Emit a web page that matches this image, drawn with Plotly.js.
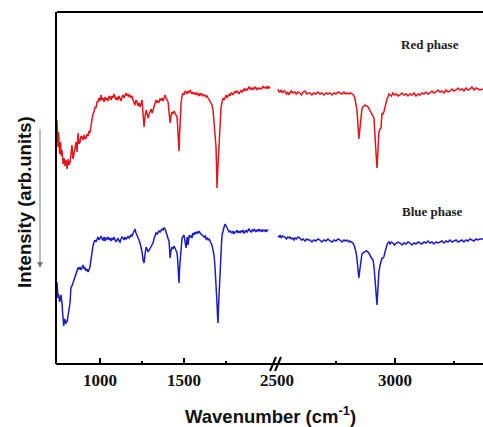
<!DOCTYPE html>
<html>
<head>
<meta charset="utf-8">
<script src="https://cdn.plot.ly/plotly-3.0.1.min.js"></script>
<style>html,body{margin:0;padding:0;background:#fff;}#chart{width:483px;height:427px;}</style>
</head>
<body>
<div id="chart"></div>
<script>
// Wavenumber (cm-1) and intensity (arb. units)
const redLeftWn = [744,747,750,753,756,760,765,770,774,780,786,792,798,804,810,816,822,828,833,839,845,851,857,863,869,875,881,887,893,899,905,911,917,923,929,935,940,946,952,958,964,970,976,982,988,994,1000,1006,1012,1018,1024,1030,1036,1042,1048,1054,1060,1066,1071,1077,1083,1089,1095,1101,1107,1113,1119,1125,1131,1137,1143,1149,1155,1161,1167,1173,1179,1185,1190,1196,1202,1208,1214,1220,1226,1232,1238,1244,1250,1256,1262,1268,1274,1280,1286,1292,1298,1304,1310,1315,1321,1327,1333,1339,1345,1351,1357,1363,1369,1375,1381,1387,1393,1399,1405,1411,1417,1422,1428,1434,1440,1446,1452,1458,1461,1464,1467,1470,1473,1476,1479,1482,1488,1494,1500,1506,1512,1518,1524,1530,1536,1542,1547,1553,1559,1565,1571,1577,1583,1589,1595,1601,1607,1613,1619,1625,1631,1637,1643,1649,1655,1660,1666,1672,1678,1684,1690,1693,1696,1699,1702,1705,1708,1711,1714,1717,1720,1726,1732,1738,1744,1750,1756,1762,1768,1774,1780,1785,1791,1797,1803,1809,1815,1821,1827,1833,1839,1845,1851,1857,1863,1869,1875,1881,1887,1893,1899,1905,1911,1917,1922,1928,1934,1940,1946,1952,1958,1964,1970,1976,1982,1988,1994,2000,2006,2012];
const redLeftI = [244,226,217,232,224,210,222,208,214,200,206,198,204,195,205,199,202,212,219,205,209,216,222,212,231,220,222,228,227,224,229,225,226,230,228,233,231,236,244,250,252,257,256,262,262,266,263,269,264,266,262,267,264,266,263,268,267,264,268,266,270,267,264,267,264,268,266,263,267,269,266,270,271,268,270,267,269,266,268,264,262,259,264,262,258,261,257,260,264,250,237,248,254,250,246,250,252,255,251,254,258,260,264,261,263,262,265,264,266,263,267,269,266,264,262,251,241,248,252,250,253,251,249,247,240,231,222,213,228,244,255,261,268,271,269,273,272,270,273,271,274,272,270,272,270,271,269,271,270,268,271,269,270,268,269,269,267,268,266,264,263,261,259,254,244,232,217,198,176,190,200,205,207,222,237,248,257,262,266,264,268,269,266,268,270,268,271,271,269,271,273,271,273,272,270,272,274,272,273,275,273,275,274,275,277,275,276,274,276,275,277,276,274,276,275,276,275,276,278,276,277,277,275,278,276,277];

const redRightWn = [2504,2509,2513,2518,2523,2529,2534,2540,2546,2551,2555,2561,2566,2572,2576,2582,2589,2597,2604,2611,2619,2626,2633,2640,2648,2656,2665,2673,2682,2690,2699,2708,2716,2725,2733,2742,2750,2759,2767,2776,2784,2791,2797,2805,2812,2818,2824,2830,2835,2839,2843,2847,2850,2852,2856,2860,2864,2868,2873,2878,2882,2886,2892,2898,2904,2908,2911,2913,2915,2920,2924,2926,2928,2932,2937,2941,2945,2949,2953,2958,2962,2966,2970,2975,2979,2985,2991,2998,3006,3013,3021,3030,3038,3047,3055,3064,3072,3081,3089,3098,3106,3114,3123,3131,3140,3148,3157,3165,3174,3182,3191,3199,3208,3216,3225,3233,3242,3250,3259,3267,3275,3284,3292,3301,3309,3318,3326,3335,3343,3352,3360,3373];
const redRightI = [275,272,272,274,271,273,273,270,272,269,271,273,271,272,272,270,272,271,269,272,273,270,271,271,269,271,270,272,270,271,269,271,270,271,269,271,270,272,271,270,272,270,271,270,271,270,269,266,260,254,240,225,232,237,251,255,257,258,259,258,258,257,254,251,249,247,246,238,227,210,196,205,214,232,235,236,251,250,252,258,262,265,267,270,269,268,271,269,270,268,269,271,269,270,268,270,269,271,268,270,269,271,270,272,270,271,273,271,272,274,272,273,271,274,272,273,275,273,274,276,274,275,273,276,274,275,277,274,276,275,274,275];

const blueLeftWn = [744,747,750,753,756,760,764,768,771,774,777,780,784,788,792,796,800,804,807,810,816,822,827,833,839,845,851,857,863,869,875,881,887,893,899,905,911,917,923,929,935,940,946,952,958,964,970,976,982,988,994,1000,1006,1012,1018,1024,1030,1036,1042,1048,1054,1060,1066,1071,1077,1083,1089,1095,1101,1107,1113,1119,1125,1131,1137,1143,1149,1155,1161,1167,1173,1179,1185,1190,1196,1202,1208,1214,1220,1226,1232,1238,1244,1250,1256,1262,1268,1274,1280,1286,1292,1298,1304,1310,1315,1321,1327,1333,1339,1345,1351,1357,1363,1369,1375,1381,1387,1393,1399,1405,1411,1414,1417,1422,1428,1434,1440,1446,1452,1458,1461,1464,1467,1470,1473,1476,1479,1482,1485,1488,1494,1500,1503,1506,1509,1512,1515,1518,1521,1524,1527,1530,1536,1542,1547,1553,1559,1565,1571,1577,1583,1589,1595,1601,1607,1613,1619,1625,1631,1637,1643,1649,1655,1660,1666,1672,1678,1684,1690,1696,1699,1702,1705,1708,1714,1720,1723,1726,1732,1738,1744,1750,1756,1762,1768,1774,1780,1785,1791,1797,1803,1809,1815,1821,1827,1833,1839,1845,1851,1857,1863,1869,1875,1881,1887,1893,1899,1905,1911,1917,1922,1928,1934,1940,1946,1952,1958,1964,1970,1976,1982,1988,1994,2000];
const blueLeftI = [82,75,66,70,64,62,66,69,64,61,52,42,38,45,44,40,43,42,46,49,55,62,77,78,81,84,87,89,91,96,95,97,94,96,99,95,96,93,95,92,95,97,104,112,118,122,124,122,125,127,124,126,128,125,124,127,123,126,125,127,124,126,123,126,124,127,125,122,124,126,123,122,125,127,126,124,127,125,126,128,126,127,129,128,131,133,135,131,129,126,124,121,117,112,104,101,110,117,115,112,114,116,118,119,121,125,129,131,130,132,133,132,134,135,134,136,135,132,129,126,122,114,106,113,117,115,118,116,114,111,106,99,90,81,95,104,108,112,120,126,128,129,125,122,119,116,122,127,124,119,124,129,127,128,126,131,129,132,130,132,131,133,131,130,129,128,127,128,125,126,124,125,122,121,119,115,109,97,82,60,48,41,58,72,95,112,122,129,134,137,140,138,137,134,132,133,131,131,133,130,132,132,134,131,133,131,133,132,134,131,132,134,132,133,135,133,132,134,133,135,134,132,134,133,135,133,134,132,134,133,134,132,134,133];

const blueRightWn = [2504,2509,2513,2518,2523,2529,2534,2540,2546,2551,2555,2561,2566,2572,2576,2582,2589,2597,2604,2611,2619,2626,2633,2640,2648,2656,2665,2673,2682,2690,2699,2708,2716,2725,2733,2742,2750,2759,2767,2776,2784,2791,2797,2805,2809,2815,2822,2828,2835,2839,2843,2847,2850,2852,2856,2860,2864,2870,2877,2882,2886,2892,2898,2903,2907,2911,2915,2920,2924,2926,2928,2932,2937,2941,2945,2949,2953,2958,2962,2966,2970,2975,2979,2985,2991,2998,3006,3013,3021,3030,3038,3047,3055,3064,3072,3081,3089,3098,3106,3114,3123,3131,3140,3148,3157,3165,3174,3182,3191,3199,3208,3216,3225,3233,3242,3250,3259,3267,3275,3284,3292,3301,3309,3318,3326,3335,3343,3352,3360,3373];
const blueRightI = [128,127,129,126,128,127,127,125,127,126,127,125,126,124,126,125,127,126,124,125,123,125,124,124,122,124,123,125,124,122,124,123,125,123,122,124,123,125,124,122,124,123,124,122,123,122,121,118,112,105,97,86,92,97,107,110,111,112,113,113,112,110,107,105,104,98,87,70,59,68,77,92,99,102,106,106,107,112,117,119,121,122,120,122,121,119,121,122,121,119,121,120,122,121,119,121,120,122,121,120,122,121,123,121,122,120,122,121,122,123,121,123,122,124,122,123,124,122,123,124,122,124,123,125,124,123,125,124,125,125];

const leftTickVals = [1000, 1500];
const leftMinorVals = [1250, 1750];
const rightTickVals = [2500, 3000];
const rightMinorVals = [2750, 3250];
const seriesNames = ['Red phase', 'Blue phase'];
const xTitle = 'Wavenumber (cm<sup>-1</sup>)';
const yTitle = 'Intensity (arb.units)';

const RED = '#e3141b';
const BLUE = '#1c1cc4';
const lineW = 1.5;

const traces = [
  {x: redLeftWn, y: redLeftI, xaxis: 'x', yaxis: 'y', mode: 'lines', line: {color: RED, width: lineW}, name: seriesNames[0], showlegend: false},
  {x: redRightWn, y: redRightI, xaxis: 'x2', yaxis: 'y', mode: 'lines', line: {color: RED, width: lineW}, name: seriesNames[0], showlegend: false},
  {x: blueLeftWn, y: blueLeftI, xaxis: 'x', yaxis: 'y', mode: 'lines', line: {color: BLUE, width: lineW}, name: seriesNames[1], showlegend: false},
  {x: blueRightWn, y: blueRightI, xaxis: 'x2', yaxis: 'y', mode: 'lines', line: {color: BLUE, width: lineW}, name: seriesNames[1], showlegend: false}
];

const tickFont = {family: 'Liberation Serif, Times New Roman, serif', size: 17, color: '#111', weight: 'bold'};
const commonX = {
  showline: false, showgrid: false, zeroline: false,
  ticks: 'inside', ticklen: 6, tickwidth: 1.5, tickcolor: '#000',
  tickfont: tickFont, tickmode: 'array', ticklabelstandoff: 4,
  anchor: 'y', fixedrange: true
};

// pixel-to-paper helpers for decorations (plot area: x 57..483, y 12..364)
const PW = 426, PH = 352;
const px = v => (v - 57) / PW;
const py = v => (364 - v) / PH;

const layout = {
  width: 483, height: 427,
  margin: {l: 57, r: 0, t: 12, b: 63, pad: 0},
  paper_bgcolor: '#fff', plot_bgcolor: '#fff',
  font: {family: 'Liberation Sans, Arial, sans-serif', color: '#111'},
  showlegend: false,
  xaxis: Object.assign({}, commonX, {
    domain: [0, px(272)], range: [744, 2023],
    tickvals: leftTickVals, ticktext: leftTickVals.map(String),
    minor: {tickmode: 'array', tickvals: leftMinorVals, ticks: 'inside', ticklen: 3, tickwidth: 1.5, tickcolor: '#000'}
  }),
  xaxis2: Object.assign({}, commonX, {
    domain: [px(276), 1], range: [2496, 3373],
    tickvals: rightTickVals, ticktext: rightTickVals.map(String),
    minor: {tickmode: 'array', tickvals: rightMinorVals, ticks: 'inside', ticklen: 3, tickwidth: 1.5, tickcolor: '#000'}
  }),
  yaxis: {
    range: [0, 352], showline: true, linewidth: 2, linecolor: '#000', mirror: false,
    showticklabels: false, ticks: '', showgrid: false, zeroline: false, fixedrange: true
  },
  shapes: [
    {type: 'line', xref: 'paper', yref: 'paper', x0: 0, x1: 1, y0: 1, y1: 1, line: {color: '#000', width: 2}},
    {type: 'line', xref: 'paper', yref: 'paper', x0: px(56), x1: 1, y0: 0, y1: 0, line: {color: '#000', width: 2}},
    {type: 'line', xref: 'paper', yref: 'paper', x0: px(270), x1: px(276), y0: py(371), y1: py(357), line: {color: '#000', width: 2}},
    {type: 'line', xref: 'paper', yref: 'paper', x0: px(275), x1: px(281), y0: py(371), y1: py(357), line: {color: '#000', width: 2}}
  ],
  annotations: [
    {xref: 'paper', yref: 'paper', x: px(430), y: py(44), text: seriesNames[0], showarrow: false,
     font: {family: 'Liberation Serif, Times New Roman, serif', size: 13, color: '#222', weight: 'bold'}, xanchor: 'center', yanchor: 'middle'},
    {xref: 'paper', yref: 'paper', x: px(432), y: py(211), text: seriesNames[1], showarrow: false,
     font: {family: 'Liberation Serif, Times New Roman, serif', size: 13, color: '#222', weight: 'bold'}, xanchor: 'center', yanchor: 'middle'},
    {xref: 'paper', yref: 'paper', x: px(270), y: py(415), text: xTitle, showarrow: false,
     font: {family: 'Liberation Sans, Arial, sans-serif', size: 18.5, color: '#111', weight: 'bold'}, xanchor: 'center', yanchor: 'middle'},
    {xref: 'paper', yref: 'paper', x: px(24), y: py(202), text: yTitle, showarrow: false, textangle: -90,
     font: {family: 'Liberation Sans, Arial, sans-serif', size: 18.5, color: '#111', weight: 'bold'}, xanchor: 'center', yanchor: 'middle'},
    {xref: 'paper', yref: 'paper', x: px(40), y: py(268), ax: 0, ay: -140, text: '', showarrow: true,
     arrowcolor: '#777', arrowwidth: 1, arrowhead: 2, arrowsize: 1.2}
  ]
};

Plotly.newPlot('chart', traces, layout, {staticPlot: true, displayModeBar: false});
</script>
</body>
</html>
